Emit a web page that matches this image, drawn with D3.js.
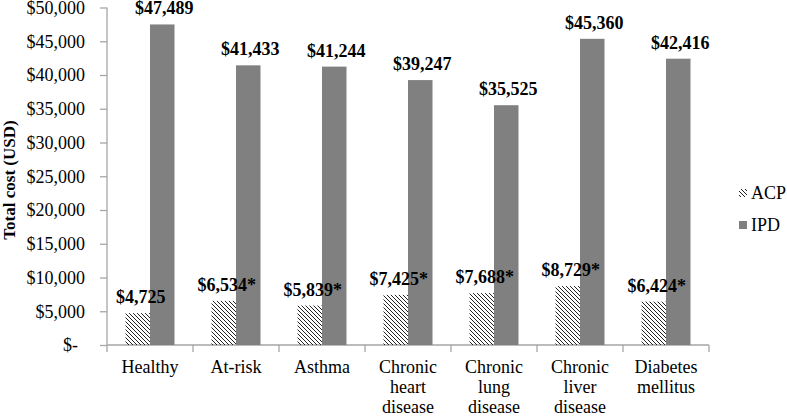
<!DOCTYPE html>
<html>
<head>
<meta charset="utf-8">
<script src="https://cdn.jsdelivr.net/npm/d3@7"></script>
<style>
  body { margin: 0; background: #fff; }
  text { font-family: "Liberation Serif", "Times New Roman", serif; }
</style>
</head>
<body>
<svg id="chart" width="787" height="416"></svg>
<script>
var categories = [["Healthy"], ["At-risk"], ["Asthma"], ["Chronic", "heart", "disease"],
                  ["Chronic", "lung", "disease"], ["Chronic", "liver", "disease"], ["Diabetes", "mellitus"]];
var acp = [4725, 6534, 5839, 7425, 7688, 8729, 6424];
var ipd = [47489, 41433, 41244, 39247, 35525, 45360, 42416];
var acpStar = [false, true, true, true, true, true, true];
var yTicks = [0, 5000, 10000, 15000, 20000, 25000, 30000, 35000, 40000, 45000, 50000];
var seriesNames = ["ACP", "IPD"];

var svg = d3.select("#chart");
var plotL = 107, plotR = 709, plotT = 7.5, plotB = 345;
var gray = "#808080", axisColor = "#a6a6a6";

var defs = svg.append("defs");
defs.append("pattern").attr("id", "hatch").attr("patternUnits", "userSpaceOnUse")
  .attr("width", 4).attr("height", 4)
  .append("path").attr("d", "M-1,-1L5,5M3,-1L5,1M-1,3L1,5")
  .attr("stroke", "#222").attr("stroke-width", 1);

var x = d3.scaleBand().domain(d3.range(categories.length)).range([plotL, plotR]);
var y = d3.scaleLinear().domain([0, 50000]).range([plotB, plotT]);
var barW = 24.5;

// y axis
var yAxis = svg.append("g").attr("transform", "translate(" + plotL + ",0)")
  .call(d3.axisLeft(y).tickValues(yTicks).tickSize(7).tickPadding(15)
    .tickFormat(d => d === 0 ? "$-" : "$" + d3.format(",")(d)));
yAxis.selectAll("path, line").attr("stroke", axisColor).attr("stroke-width", 1.3);
yAxis.selectAll("text").attr("font-size", 18).attr("fill", "#000")
  .attr("font-family", "Liberation Serif, serif");
yAxis.selectAll("text").filter(d => d === 0).attr("dx", -7);
yAxis.select(".domain").attr("d", "M0," + plotT + "V" + plotB);

// x axis
var xg = svg.append("g");
xg.append("line").attr("x1", plotL).attr("x2", plotR).attr("y1", plotB).attr("y2", plotB)
  .attr("stroke", axisColor).attr("stroke-width", 1.3);
xg.selectAll("line.tick").data(d3.range(categories.length + 1)).join("line")
  .attr("x1", i => plotL + i * x.bandwidth()).attr("x2", i => plotL + i * x.bandwidth())
  .attr("y1", plotB).attr("y2", plotB + 7).attr("stroke", axisColor).attr("stroke-width", 1.3);

// bars
var g = svg.append("g");
categories.forEach(function(c, i) {
  var cx = x(i) + x.bandwidth() / 2;
  g.append("rect").attr("x", cx - barW).attr("width", barW)
    .attr("y", y(acp[i])).attr("height", y(0) - y(acp[i])).attr("fill", "url(#hatch)");
  g.append("rect").attr("x", cx).attr("width", barW)
    .attr("y", y(ipd[i])).attr("height", y(0) - y(ipd[i])).attr("fill", gray);
});

// value labels
categories.forEach(function(c, i) {
  var cx = x(i) + x.bandwidth() / 2;
  svg.append("text").attr("x", cx - barW / 2 + 3).attr("y", y(acp[i]) - 10)
    .attr("text-anchor", "middle").attr("font-size", 18).attr("font-weight", "bold")
    .text("$" + d3.format(",")(acp[i]) + (acpStar[i] ? "*" : ""));
  svg.append("text").attr("x", cx + barW / 2 + 2).attr("y", y(ipd[i]) - 10)
    .attr("text-anchor", "middle").attr("font-size", 18).attr("font-weight", "bold")
    .text("$" + d3.format(",")(ipd[i]));
});

// category labels
categories.forEach(function(c, i) {
  var t = svg.append("text").attr("text-anchor", "middle").attr("font-size", 18)
    .attr("x", x(i) + x.bandwidth() / 2).attr("y", 373);
  c.forEach(function(line, j) {
    t.append("tspan").attr("x", x(i) + x.bandwidth() / 2).attr("y", 373 + j * 20).text(line);
  });
});

// axis title
svg.append("text").attr("transform", "translate(15,180) rotate(-90)")
  .attr("text-anchor", "middle").attr("font-size", 17).attr("font-weight", "bold")
  .text("Total cost (USD)");

// legend
var fills = ["url(#hatch)", gray];
seriesNames.forEach(function(n, i) {
  var ly = 193 + i * 32;
  svg.append("rect").attr("x", 739).attr("y", ly - 4).attr("width", 8).attr("height", 8)
    .attr("fill", fills[i]);
  svg.append("text").attr("x", 751).attr("y", ly + 6).attr("font-size", 18).text(n);
});
</script>
</body>
</html>
